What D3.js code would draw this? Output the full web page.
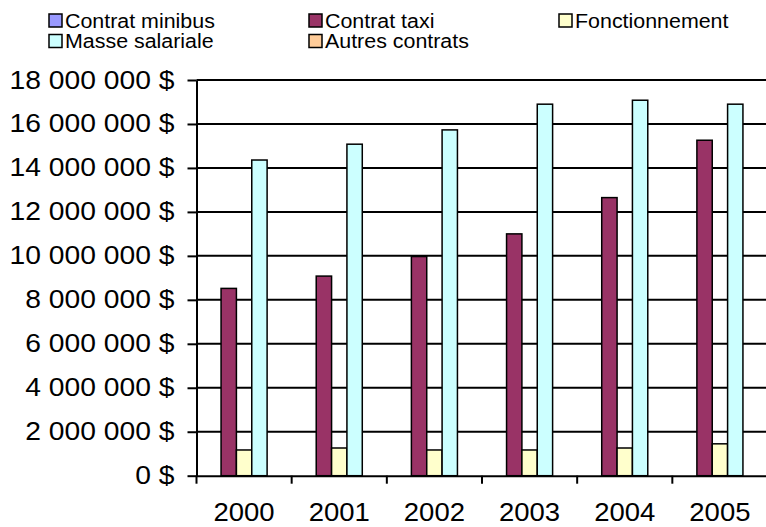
<!DOCTYPE html>
<html>
<head>
<meta charset="utf-8">
<script src="https://cdn.jsdelivr.net/npm/d3@7"></script>
<style>
  body { margin: 0; background: #fff; }
  svg { display: block; font-family: Arial, "Liberation Sans", sans-serif; }
</style>
</head>
<body>
<div id="chart"></div>
<script>
// data
var years = ['2000', '2001', '2002', '2003', '2004', '2005'];
var seriesNames = ['Contrat minibus', 'Contrat taxi', 'Fonctionnement', 'Masse salariale', 'Autres contrats'];
var seriesColors = ['#9999FF', '#993366', '#FFFFCC', '#CCFFFF', '#FFCC99'];
var minibus = [0, 0, 0, 0, 0, 0];
var taxi = [8520000, 9080000, 9970000, 11000000, 12650000, 15260000];
var fonctionnement = [1170000, 1260000, 1170000, 1170000, 1260000, 1450000];
var masse = [14360000, 15080000, 15730000, 16900000, 17080000, 16900000];
var autres = [0, 0, 0, 0, 0, 0];
var yTicks = [0, 2000000, 4000000, 6000000, 8000000, 10000000, 12000000, 14000000, 16000000, 18000000];

var allSeries = [minibus, taxi, fonctionnement, masse, autres];

var width = 766, height = 527;

var svg = d3.select('#chart')
    .append('svg')
    .attr('width', width)
    .attr('height', height);

var x = d3.scaleBand().domain(years).range([196.5, 767.5]);
var xs = d3.scaleBand().domain(seriesNames).range([0, x.bandwidth()]).paddingOuter(0.6);
var y = d3.scaleLinear().domain([0, 18000000]).range([475.7, 80]);

// the reference text is a bit wider than Arial, stretch it
function stretch(sel, k) {
    sel.each(function() {
        var w = this.getComputedTextLength();
        d3.select(this).attr('textLength', w * k).attr('lengthAdjust', 'spacingAndGlyphs');
    });
}

// grid lines
svg.append('g')
    .selectAll('line')
    .data(yTicks.filter(d => d > 0))
    .join('line')
    .attr('x1', 196.5)
    .attr('x2', width)
    .attr('y1', d => y(d))
    .attr('y2', d => y(d))
    .attr('stroke', '#000')
    .attr('stroke-width', 2);

// bars
var groups = svg.append('g')
    .selectAll('g')
    .data(years)
    .join('g')
    .attr('transform', d => `translate(${x(d)},0)`);

groups.each(function(yr, i) {
    var rows = seriesNames.map((s, j) => ({ name: s, color: seriesColors[j], v: allSeries[j][i] }))
        .filter(r => r.v > 0);
    d3.select(this).selectAll('rect')
        .data(rows)
        .join('rect')
        .attr('x', r => xs(r.name))
        .attr('width', xs.bandwidth())
        .attr('y', r => y(r.v))
        .attr('height', r => y(0) - y(r.v))
        .attr('fill', r => r.color)
        .attr('stroke', '#000')
        .attr('stroke-width', 1.5);
});

var fmt = d => d3.format(',')(d).replace(/,/g, ' ') + ' $';

// y axis
var yAxis = svg.append('g')
    .attr('transform', 'translate(196.5,0)')
    .call(d3.axisLeft(y).tickValues(yTicks).tickFormat(fmt).tickSize(9).tickPadding(13).tickSizeOuter(0));
yAxis.select('.domain').attr('stroke-width', 2);
yAxis.selectAll('.tick line').attr('stroke-width', 2);
yAxis.selectAll('text').attr('font-size', 25).attr('font-family', 'Arial, "Liberation Sans", sans-serif').attr('fill', '#000');
stretch(yAxis.selectAll('text'), 1.13);

// x axis
var xAxis = svg.append('g')
    .attr('transform', `translate(0,${y(0)})`)
    .call(d3.axisBottom(x).tickSize(0).tickPadding(28).tickSizeOuter(0));
xAxis.select('.domain').attr('stroke-width', 2);
xAxis.selectAll('text').attr('font-size', 25).attr('font-family', 'Arial, "Liberation Sans", sans-serif').attr('fill', '#000');
stretch(xAxis.selectAll('text'), 1.1);

xAxis.selectAll('line.bound')
    .data(years.map(d => x(d)).concat([x(years[years.length - 1]) + x.bandwidth()]))
    .join('line')
    .attr('class', 'bound')
    .attr('x1', d => d).attr('x2', d => d)
    .attr('y1', 0).attr('y2', 8)
    .attr('stroke', '#000')
    .attr('stroke-width', 2);

// legend
var legCols = [49, 309, 559];
var legRows = [20.5, 41];
var legend = svg.append('g')
    .selectAll('g')
    .data(seriesNames)
    .join('g')
    .attr('transform', (d, i) => `translate(${legCols[i % 3]},${legRows[Math.floor(i / 3)]})`);

legend.append('rect')
    .attr('x', 0).attr('y', -6.5)
    .attr('width', 13).attr('height', 13)
    .attr('fill', (d, i) => seriesColors[i])
    .attr('stroke', '#000')
    .attr('stroke-width', 1.5);

legend.append('text')
    .attr('x', 16)
    .attr('y', 7)
    .attr('font-size', 20)
    .text(d => d);
stretch(legend.selectAll('text'), 1.07);
</script>
</body>
</html>
